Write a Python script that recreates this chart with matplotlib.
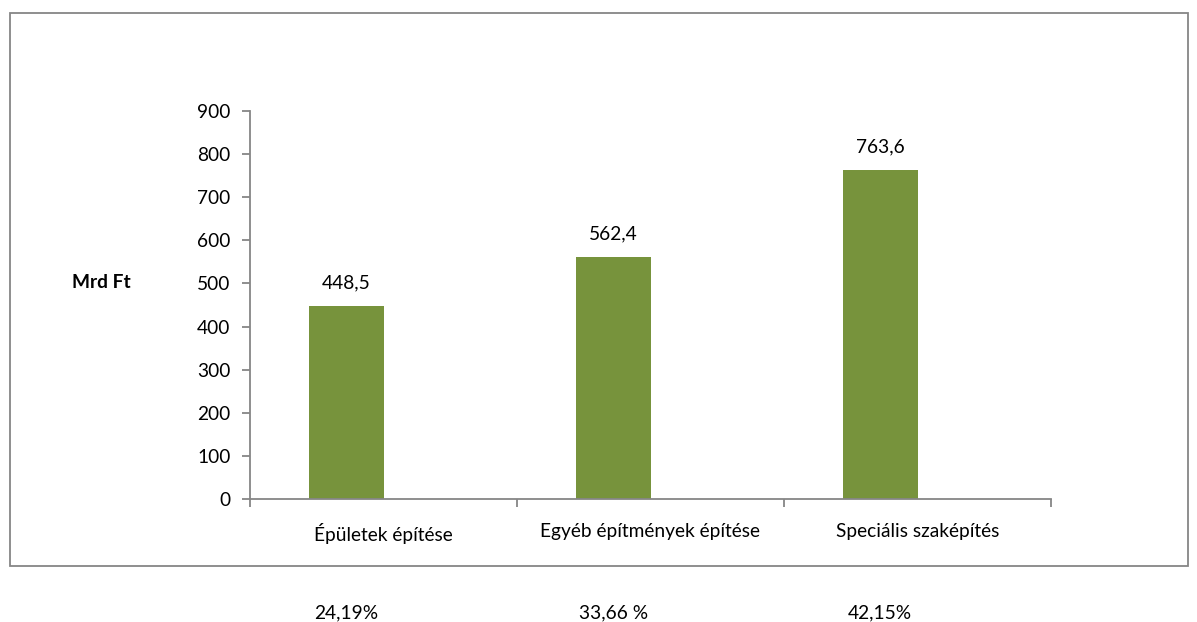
import numpy as np
import matplotlib.pyplot as plt
from matplotlib.patches import Rectangle
import matplotlib.transforms as mtransforms

plt.rcParams['font.family'] = ['Lato', 'DejaVu Sans']

# data
categories = ['Épületek építése', 'Egyéb építmények építése', 'Speciális szaképítés']
values = [448.5, 562.4, 763.6]
value_labels = ['448,5', '562,4', '763,6']
shares = ['24,19%', '33,66 %', '42,15%']
yticks = [0, 100, 200, 300, 400, 500, 600, 700, 800, 900]

green = '#77933C'
gray = '#868686'
W, H = 1197, 622
fs = 13.8

fig = plt.figure(figsize=(W / 100, H / 100), dpi=100)
fig.patch.set_facecolor('white')

# outer chart border
fig.add_artist(Rectangle((10 / W, (H - 566) / H), (1188 - 10) / W, (566 - 13) / H,
                         transform=fig.transFigure, fill=False, edgecolor=gray, lw=1.3))

ax = fig.add_axes([250 / W, (H - 499) / H, (1051 - 250) / W, (499 - 111) / H])
x = np.arange(len(categories))
bw = 0.28
bars = ax.bar(x - bw / 2, values, width=bw, color=green, zorder=2)

for xi, v, lab in zip(x, values, value_labels):
    ax.annotate(lab, (xi - bw / 2, v), xytext=(0, 16.5), textcoords='offset points',
                ha='center', va='center', fontsize=fs, color='black')

ax.set_xlim(-0.5, len(categories) - 0.5)
ax.set_ylim(0, 900)
ax.set_yticks(yticks)
ax.set_yticklabels([str(t) for t in yticks], fontsize=fs)
ax.set_xticks(x)
ax.set_xticklabels(categories, fontsize=fs)
ax.tick_params(axis='x', length=0, pad=17)
ax.set_xticks(np.arange(-0.5, len(categories)), minor=True)
ax.tick_params(axis='x', which='minor', length=6, color=gray, width=1.3, direction='out')
ax.tick_params(axis='y', length=6, color=gray, width=1.3, direction='out', pad=8)

for s in ['top', 'right']:
    ax.spines[s].set_visible(False)
for s in ['left', 'bottom']:
    ax.spines[s].set_color(gray)
    ax.spines[s].set_linewidth(1.3)

fig.text(101 / W, (H - 282) / H, 'Mrd Ft', fontsize=fs, fontweight='bold',
         ha='center', va='center')

# shares below the chart box
trans = mtransforms.blended_transform_factory(ax.transData, fig.transFigure)
for xi, s in zip(x, shares):
    ax.text(xi - bw / 2, (H - 613) / H, s, transform=trans, ha='center', va='center',
            fontsize=fs, clip_on=False)

fig.savefig('out.png', dpi=100)
